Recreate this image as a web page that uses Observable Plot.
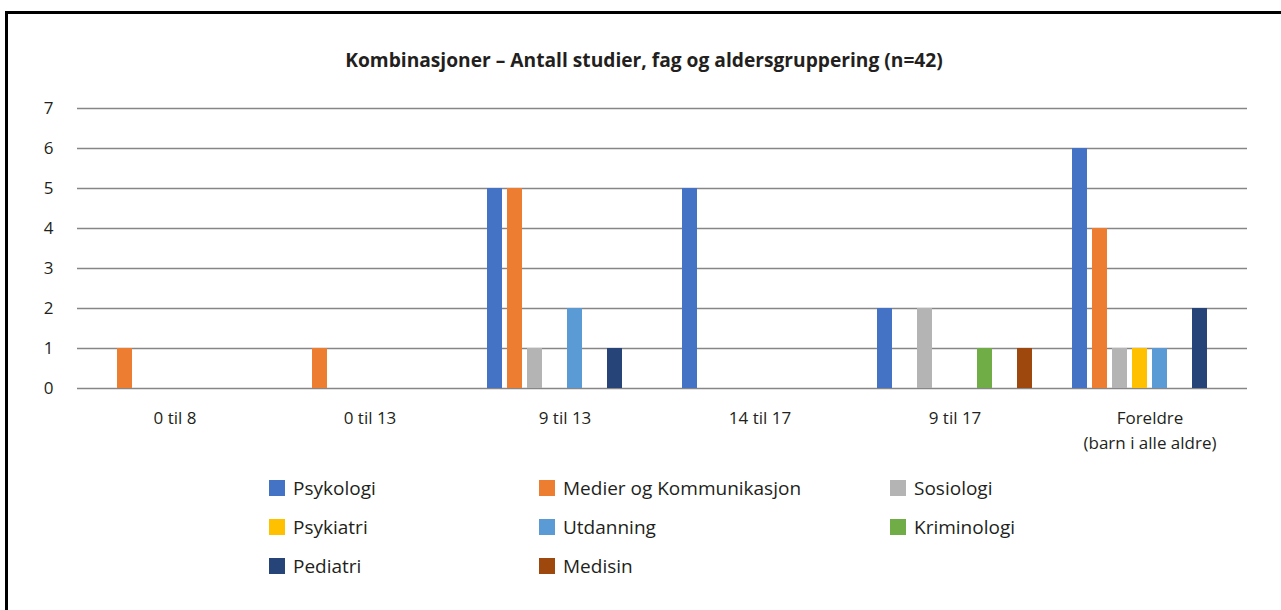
<!DOCTYPE html>
<html>
<head>
<meta charset="utf-8">
<script src="https://cdn.jsdelivr.net/npm/d3@7"></script>
<script src="https://cdn.jsdelivr.net/npm/@observablehq/plot@0.6"></script>
<style>
  html, body { margin: 0; padding: 0; background: #fff; }
  body { width: 1281px; height: 610px; position: relative; overflow: hidden; font-family: "Open Sans", sans-serif; color: #231f20; }
  #frame { position: absolute; left: 5px; top: 11px; width: 1400px; height: 700px; border-top: 3px solid #000; border-left: 3px solid #000; }
  #title { position: absolute; top: 46px; left: 0; width: 1288px; text-align: center; font-weight: 700; font-size: 19.2px; }
  #chart { position: absolute; left: 0; top: 90px; }
  #legend { position: absolute; left: 269px; top: 468px; display: grid; grid-template-columns: 270px 351px auto; grid-auto-rows: 39px; font-size: 19px; }
  .item { display: flex; align-items: center; }
  .sw { width: 16px; height: 16px; margin-right: 8px; flex: none; }
</style>
</head>
<body>
<div id="frame"></div>
<div id="title">Kombinasjoner – Antall studier, fag og aldersgruppering (n=42)</div>
<div id="chart"></div>
<div id="legend"></div>
<script>
const categories = ["0 til 8", "0 til 13", "9 til 13", "14 til 17", "9 til 17", "Foreldre\n(barn i alle aldre)"];
const series = ["Psykologi", "Medier og Kommunikasjon", "Sosiologi", "Psykiatri", "Utdanning", "Kriminologi", "Pediatri", "Medisin"];
const colors = ["#4472c4", "#ed7d31", "#b4b4b4", "#ffc000", "#5b9bd5", "#70ad47", "#264478", "#9e480e"];
// values per series, in category order
const psykologi   = [0, 0, 5, 5, 2, 6];
const medier      = [1, 1, 5, 0, 0, 4];
const sosiologi   = [0, 0, 1, 0, 2, 1];
const psykiatri   = [0, 0, 0, 0, 0, 1];
const utdanning   = [0, 0, 2, 0, 0, 1];
const kriminologi = [0, 0, 0, 0, 1, 0];
const pediatri    = [0, 0, 1, 0, 0, 2];
const medisin     = [0, 0, 0, 0, 1, 0];
const yTicks = [0, 1, 2, 3, 4, 5, 6, 7];

const valuesBySeries = [psykologi, medier, sosiologi, psykiatri, utdanning, kriminologi, pediatri, medisin];
const data = [];
series.forEach((s, i) => categories.forEach((c, j) => {
  data.push({category: c, series: s, value: valuesBySeries[i][j]});
}));

const chart = Plot.plot({
  width: 1281,
  height: 370,
  marginTop: 18,
  marginBottom: 72,
  marginLeft: 77,
  marginRight: 34,
  style: {fontFamily: "'Open Sans', sans-serif", fontSize: "17px", color: "#231f20", background: "transparent"},
  fx: {domain: categories, padding: 0, label: null, axis: null},
  x: {domain: series, paddingInner: 0.234, paddingOuter: 0.867, axis: null},
  y: {domain: [0, 7], ticks: yTicks, label: null, tickSize: 0, tickPadding: 24, tickFormat: d => String(d)},
  color: {domain: series, range: colors},
  marks: [
    Plot.ruleY(yTicks, {stroke: "#868686", strokeWidth: 1.6}),
    Plot.barY(data.filter(d => d.value > 0), {fx: "category", x: "series", y: "value", fill: "series"}),
    Plot.axisFx({anchor: "bottom", tickSize: 0, tickPadding: 17, label: null, lineHeight: 1.5, fontSize: 17})
  ]
});
document.getElementById("chart").appendChild(chart);

const legend = document.getElementById("legend");
series.forEach((s, i) => {
  const it = document.createElement("div");
  it.className = "item";
  const sw = document.createElement("span");
  sw.className = "sw";
  sw.style.background = colors[i];
  const t = document.createElement("span");
  t.textContent = s;
  it.appendChild(sw); it.appendChild(t);
  legend.appendChild(it);
});
</script>
</body>
</html>
